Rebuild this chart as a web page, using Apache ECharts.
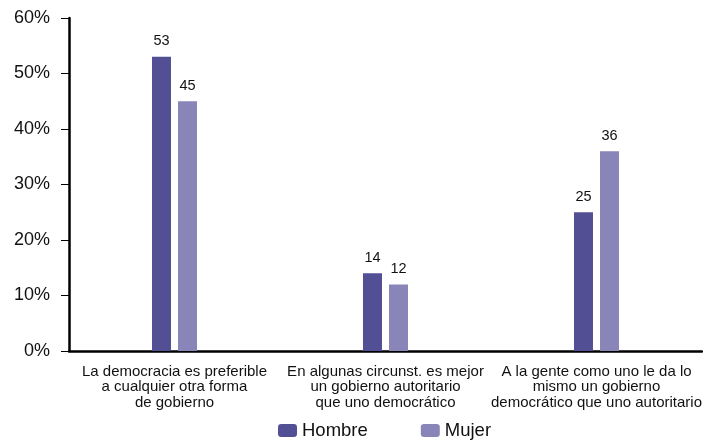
<!DOCTYPE html>
<html><head><meta charset="utf-8">
<script src="https://cdn.jsdelivr.net/npm/echarts@6/dist/echarts.min.js"></script>
<style>html,body{margin:0;padding:0;background:#fff}#c{width:703px;height:441px}</style>
</head><body><div id="c"></div>
<script>
const categories = [
  "La democracia es preferible\na cualquier otra forma\nde gobierno",
  "En algunas circunst. es mejor\nun gobierno autoritario\nque uno democrático",
  "A la gente como uno le da lo\nmismo un gobierno\ndemocrático que uno autoritario"
];
const hombre = [53, 14, 25];
const mujer = [45, 12, 36];
const seriesNames = ["Hombre", "Mujer"];

const chart = echarts.init(document.getElementById('c'));
const font = "Liberation Sans, Arial, sans-serif";
chart.setOption({
  animation: false,
  textStyle: {fontFamily: font},
  grid: {left: 69, right: 1, top: 18, bottom: 90, containLabel: false, outerBoundsMode: 'none'},
  legend: {
    data: seriesNames, bottom: -4, left: 273, itemWidth: 19, itemHeight: 13, itemGap: 53,
    textStyle: {fontSize: 18.5, color: '#111', fontFamily: font}
  },
  xAxis: {
    type: 'category', data: categories,
    axisLine: {lineStyle: {color: '#000', width: 2.5}},
    axisTick: {inside: true, length: 6, lineStyle: {color: '#000', width: 2}},
    axisLabel: {fontSize: 15, color: '#111', lineHeight: 15.5, margin: 13, interval: 0, fontFamily: font}
  },
  yAxis: {
    type: 'value', min: 0, max: 60, interval: 10,
    axisLine: {show: true, lineStyle: {color: '#000', width: 2.5}},
    axisTick: {show: true, length: 8, lineStyle: {color: '#000', width: 1}},
    splitLine: {show: false},
    axisLabel: {formatter: '{value}%', fontSize: 18, color: '#111', margin: 19, fontFamily: font}
  },
  series: [
    {name: seriesNames[0], type: 'bar', data: hombre, barWidth: 19, barGap: '37%',
     itemStyle: {color: '#524f94'},
     label: {show: true, position: 'top', fontSize: 14.5, color: '#111', distance: 8}},
    {name: seriesNames[1], type: 'bar', data: mujer, barWidth: 19,
     itemStyle: {color: '#8a85b8'},
     label: {show: true, position: 'top', fontSize: 14.5, color: '#111', distance: 8}}
  ]
});
</script></body></html>
